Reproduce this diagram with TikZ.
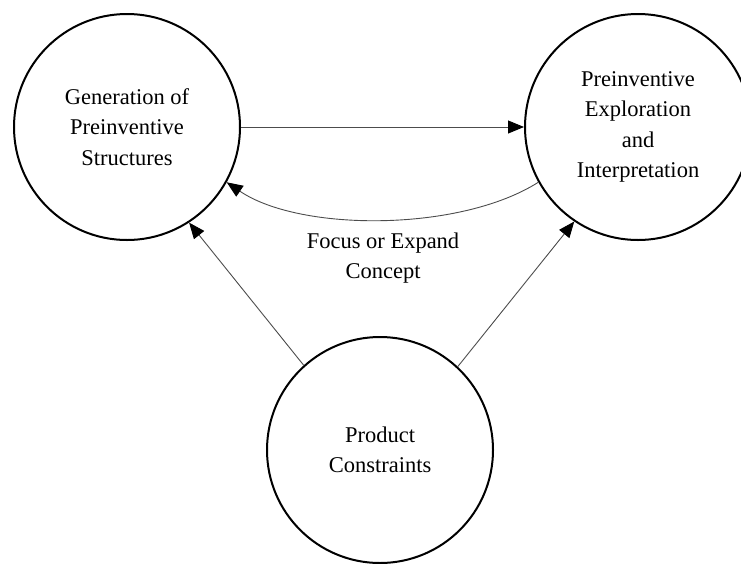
\documentclass[tikz,border=0pt]{standalone}
\usepackage{fontspec}
\setmainfont{Liberation Serif}
\usetikzlibrary{arrows.meta}

\tikzset{
  stage/.style={circle, draw=black, line width=2pt, minimum size=226pt,
    inner sep=0pt, align=center, font=\fontsize{22.5}{30.5}\selectfont},
  flow/.style={draw=black!70, line width=0.9pt,
    -{Triangle[length=16pt, width=13pt, fill=black, color=black]}},
  caption/.style={align=center, font=\fontsize{22.5}{30.5}\selectfont}
}

\begin{document}
\begin{tikzpicture}[x=1pt, y=-1pt]
  \useasboundingbox (0,0) rectangle (741,563);
  \clip (0,0) rectangle (741,563);

  % the three stages
  \node[stage] (gen)  at (127,127) {Generation of\\Preinventive\\Structures};
  \node[stage] (expl) at (638,127) {Preinventive\\Exploration\\and\\Interpretation};
  \node[stage] (prod) at (380,450) {Product\\Constraints};

  % feedback label
  \node[caption] (focus) at (383,258) {Focus or Expand\\Concept};

  % connectors
  \draw[flow] (gen.east) -- (expl.west);
  \draw[flow] (expl.209) .. controls (460,232) and (300,232) .. (gen.331);
  \draw[flow] (prod.132) -- (gen.303);
  \draw[flow] (prod.47.5) -- (expl.236.7);
\end{tikzpicture}
\end{document}
